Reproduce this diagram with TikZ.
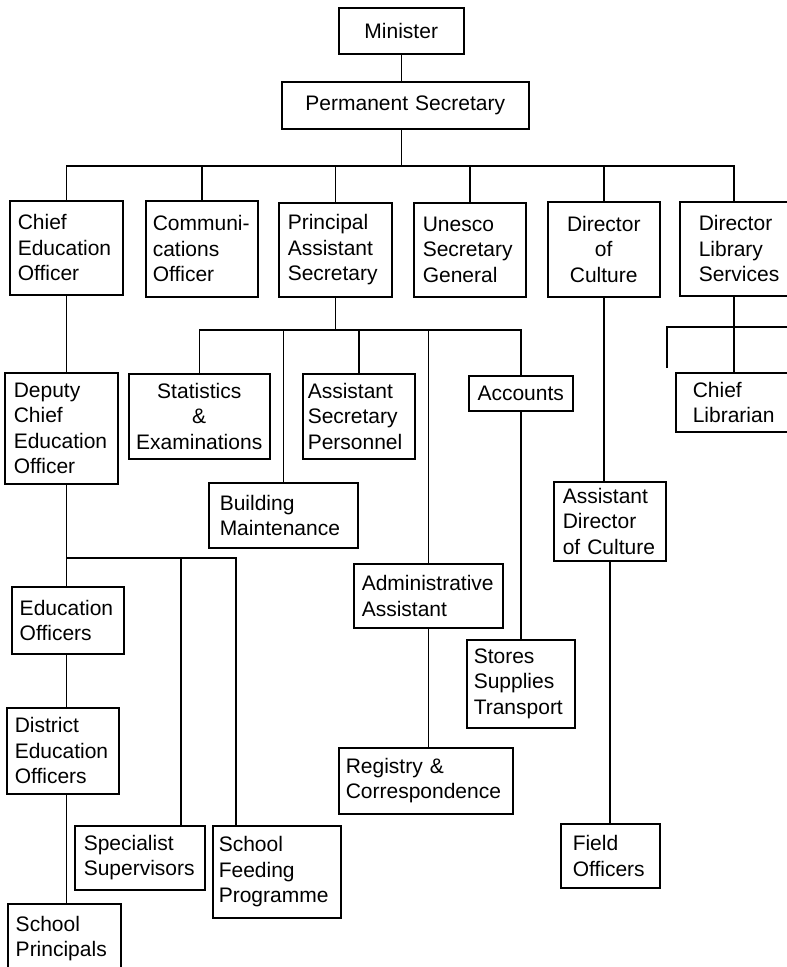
\documentclass[tikz,border=0pt]{standalone}
\usepackage{fontspec}
\setmainfont{Liberation Sans}
\begin{document}
\begin{tikzpicture}[x=1pt,y=1pt,
  bx/.style n args={4}{draw, line width=1.5pt, anchor=north west,
    minimum width=#1pt, minimum height=#2pt, inner xsep=#3pt, inner ysep=0pt,
    text width=#4pt, align=left, font=\fontsize{21}{25.5}\selectfont},
  ln/.style={line width=1.5pt}]
\useasboundingbox (0,0) rectangle (787,-967);
% nodes
\node[bx={125}{46}{5}{115}, align=center] (min) at (338,-7) {Minister};
\node[bx={247}{47}{5}{237}, align=center] (ps) at (281,-81) {Permanent Secretary};
\node[bx={113}{94}{8}{97}] (ceo) at (9,-200) {Chief\\Education\\Officer};
\node[bx={112}{96}{7}{98}] (comm) at (145,-200) {Communi-\\cations\\Officer};
\node[bx={113}{94}{9}{95}] (pas) at (278,-202) {Principal\\Assistant\\Secretary};
\node[bx={112}{94}{9}{94}] (une) at (413,-202) {Unesco\\Secretary\\General};
\node[bx={112}{95}{5}{102}, align=center] (doc) at (547,-201) {Director\\of\\Culture};
\node[bx={121}{94}{19}{83}] (dls) at (679,-201) {Director\\Library\\Services};
\node[bx={113}{111}{9}{95}] (dep) at (4,-372) {Deputy\\Chief\\Education\\Officer};
\node[bx={141}{85}{5}{131}, align=center] (stat) at (128,-373) {Statistics\\\&\\Examinations};
\node[bx={112}{85}{5}{102}] (asp) at (302,-373) {Assistant\\Secretary\\Personnel};
\node[bx={104}{35}{5}{94}, align=center] (acc) at (468,-375) {Accounts};
\node[bx={125}{59}{17}{91}] (cl) at (675,-372) {Chief\\Librarian};
\node[bx={149}{65}{11}{127}] (bm) at (208,-482) {Building\\Maintenance};
\node[bx={112}{79}{9}{94}] (adc) at (553,-481) {Assistant\\Director\\of Culture};
\node[bx={112}{67}{8}{96}] (eo) at (11,-586) {Education\\Officers};
\node[bx={149}{64}{8}{133}] (adm) at (353,-563) {Administrative\\Assistant};
\node[bx={108}{88}{7}{94}] (st) at (466,-639) {Stores\\Supplies\\Transport};
\node[bx={112}{86}{8}{96}] (dist) at (6,-707) {District\\Education\\Officers};
\node[bx={174}{66}{7}{160}] (reg) at (338,-747) {Registry \&\\Correspondence};
\node[bx={130}{64}{9}{112}] (sp) at (74,-825) {Specialist\\Supervisors};
\node[bx={128}{92}{6}{116}] (sf) at (212,-825) {School\\Feeding\\Programme};
\node[bx={99}{64}{12}{75}] (fo) at (560,-823) {Field\\Officers};
\node[bx={113}{70}{8}{97}] (prin) at (7,-903) {School\\Principals};
% helper coordinates
\coordinate (bus1) at (0,-166);
\coordinate (bus3) at (0,-330);
\coordinate (b2s) at (181,-558);
\coordinate (b2f) at (236,-558);
\coordinate (dlsx) at (734,-166);
\coordinate (b4l) at (667,-327);
\coordinate (b4r) at (792,-327);
\coordinate (b4d) at (667,-368);
% connectors
\draw[ln] (min.south) -- (min.south |- ps.north);
\draw[ln] (min.south |- ps.south) -- (min.south |- bus1);
\draw[ln] (ceo.north) -- (ceo.north |- bus1) -- (dlsx) -- (dlsx |- dls.north);
\draw[ln] (comm.north) -- (comm.north |- bus1);
\draw[ln] (pas.north) -- (pas.north |- bus1);
\draw[ln] (une.north) -- (une.north |- bus1);
\draw[ln] (doc.north) -- (doc.north |- bus1);
% education branch
\draw[ln] (ceo.south) -- (ceo.south |- dep.north);
\draw[ln] (ceo.south |- dep.south) -- (ceo.south |- eo.north);
\draw[ln] (ceo.south |- b2f) -- (b2f) -- (b2f |- sf.north);
\draw[ln] (b2s) -- (b2s |- sp.north);
\draw[ln] (ceo.south |- eo.south) -- (ceo.south |- dist.north);
\draw[ln] (ceo.south |- dist.south) -- (ceo.south |- prin.north);
% principal assistant secretary branch
\draw[ln] (pas.south) -- (pas.south |- bus3);
\draw[ln] (stat.north) -- (stat.north |- bus3) -- (acc.north |- bus3) -- (acc.north);
\draw[ln] (bm.north) -- (bm.north |- bus3);
\draw[ln] (asp.north) -- (asp.north |- bus3);
\draw[ln] (adm.north) -- (adm.north |- bus3);
\draw[ln] (adm.south) -- (adm.south |- reg.north);
\draw[ln] (acc.south) -- (acc.south |- st.north);
% culture branch
\draw[ln] (doc.south) -- (doc.south |- adc.north);
\draw[ln] (adc.south) -- (adc.south |- fo.north);
% library branch
\draw[ln] (dlsx |- dls.south) -- (dlsx |- cl.north);
\draw[ln] (b4d) -- (b4l) -- (b4r);
\end{tikzpicture}
\end{document}
